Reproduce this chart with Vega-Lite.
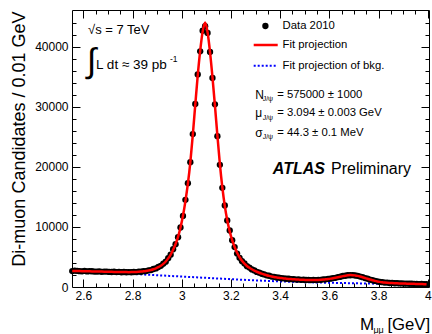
{
  "$schema": "https://vega.github.io/schema/vega-lite/v6.json",
  "width": 357,
  "height": 277,
  "autosize": "none",
  "padding": {"left": 72, "top": 10, "right": 3, "bottom": 47},
  "background": "white",
  "data": {"values": [{}]},
  "config": {
    "font": "Liberation Sans",
    "view": {"stroke": "black", "strokeWidth": 1},
    "text": {"font": "Liberation Sans", "fontSize": 11.3, "align": "left", "baseline": "middle", "color": "black"},
    "axis": {"labelFont": "Liberation Sans", "labelColor": "black", "labelFontSize": 12, "titleFont": "Liberation Sans", "titleColor": "black", "grid": false, "tickColor": "black", "tickWidth": 1, "domain": false, "labelFlush": false, "labelOverlap": false}
  },
  "datasets": {
    "bins": [
      {"m":2.555,"n":2650,"f":2680},{"m":2.565,"n":2720,"f":2670},{"m":2.575,"n":2690,"f":2660},{"m":2.585,"n":2640,"f":2650},{"m":2.595,"n":2610,"f":2640},
      {"m":2.605,"n":2670,"f":2630},{"m":2.615,"n":2590,"f":2620},{"m":2.625,"n":2640,"f":2610},{"m":2.635,"n":2620,"f":2600},{"m":2.645,"n":2570,"f":2590},
      {"m":2.655,"n":2560,"f":2580},{"m":2.665,"n":2600,"f":2570},{"m":2.675,"n":2530,"f":2560},{"m":2.685,"n":2570,"f":2550},{"m":2.695,"n":2560,"f":2540},
      {"m":2.705,"n":2510,"f":2530},{"m":2.715,"n":2500,"f":2521},{"m":2.725,"n":2540,"f":2512},{"m":2.735,"n":2480,"f":2503},{"m":2.745,"n":2510,"f":2495},
      {"m":2.755,"n":2460,"f":2488},{"m":2.765,"n":2500,"f":2482},{"m":2.775,"n":2450,"f":2477},{"m":2.785,"n":2490,"f":2474},{"m":2.795,"n":2460,"f":2478},
      {"m":2.805,"n":2500,"f":2488},{"m":2.815,"n":2480,"f":2505},{"m":2.825,"n":2550,"f":2530},{"m":2.835,"n":2540,"f":2565},{"m":2.845,"n":2640,"f":2610},
      {"m":2.855,"n":2650,"f":2670},{"m":2.865,"n":2770,"f":2745},{"m":2.875,"n":2820,"f":2840},{"m":2.885,"n":2990,"f":2960},{"m":2.895,"n":3090,"f":3110},
      {"m":2.905,"n":3330,"f":3300},{"m":2.915,"n":3520,"f":3540},{"m":2.925,"n":3890,"f":3850},{"m":2.935,"n":4220,"f":4250},{"m":2.945,"n":4800,"f":4760},
      {"m":2.955,"n":5380,"f":5400},{"m":2.965,"n":6280,"f":6200},{"m":2.975,"n":7110,"f":7150},{"m":2.985,"n":8300,"f":8350},{"m":2.995,"n":9900,"f":9900},
      {"m":3.005,"n":11830,"f":11850},{"m":3.015,"n":14500,"f":14300},{"m":3.025,"n":17280,"f":17200},{"m":3.035,"n":20780,"f":20800},{"m":3.045,"n":25450,"f":25300},
      {"m":3.055,"n":30450,"f":30300},{"m":3.065,"n":35380,"f":35200},{"m":3.075,"n":39220,"f":39300},{"m":3.085,"n":42650,"f":42500},{"m":3.095,"n":43400,"f":44000},
      {"m":3.105,"n":42280,"f":42400},{"m":3.115,"n":39120,"f":39100},{"m":3.125,"n":34780,"f":34900},{"m":3.135,"n":30400,"f":30200},{"m":3.145,"n":25100,"f":25200},
      {"m":3.155,"n":20330,"f":20500},{"m":3.165,"n":16500,"f":16600},{"m":3.175,"n":13580,"f":13500},{"m":3.185,"n":11080,"f":11100},{"m":3.195,"n":9420,"f":9250},
      {"m":3.205,"n":7800,"f":7800},{"m":3.215,"n":6650,"f":6650},{"m":3.225,"n":5560,"f":5700},{"m":3.235,"n":4850,"f":4950},{"m":3.245,"n":4300,"f":4350},
      {"m":3.255,"n":3920,"f":3880},{"m":3.265,"n":3470,"f":3500},{"m":3.275,"n":3230,"f":3200},{"m":3.285,"n":2920,"f":2950},{"m":3.295,"n":2760,"f":2730},
      {"m":3.305,"n":2510,"f":2540},{"m":3.315,"n":2390,"f":2370},{"m":3.325,"n":2200,"f":2220},{"m":3.335,"n":2100,"f":2080},{"m":3.345,"n":1940,"f":1960},
      {"m":3.355,"n":1870,"f":1850},{"m":3.365,"n":1740,"f":1755},{"m":3.375,"n":1690,"f":1670},{"m":3.385,"n":1580,"f":1600},{"m":3.395,"n":1550,"f":1535},
      {"m":3.405,"n":1460,"f":1480},{"m":3.415,"n":1450,"f":1430},{"m":3.425,"n":1370,"f":1390},{"m":3.435,"n":1370,"f":1350},{"m":3.445,"n":1300,"f":1315},
      {"m":3.455,"n":1300,"f":1285},{"m":3.465,"n":1240,"f":1255},{"m":3.475,"n":1250,"f":1230},{"m":3.485,"n":1190,"f":1210},{"m":3.495,"n":1210,"f":1190},
      {"m":3.505,"n":1160,"f":1178},{"m":3.515,"n":1190,"f":1168},{"m":3.525,"n":1150,"f":1163},{"m":3.535,"n":1180,"f":1163},{"m":3.545,"n":1150,"f":1170},
      {"m":3.555,"n":1200,"f":1185},{"m":3.565,"n":1190,"f":1208},{"m":3.575,"n":1260,"f":1240},{"m":3.585,"n":1270,"f":1282},{"m":3.595,"n":1350,"f":1333},
      {"m":3.605,"n":1380,"f":1395},{"m":3.615,"n":1480,"f":1465},{"m":3.625,"n":1530,"f":1545},{"m":3.635,"n":1650,"f":1630},{"m":3.645,"n":1700,"f":1720},
      {"m":3.655,"n":1830,"f":1810},{"m":3.665,"n":1870,"f":1885},{"m":3.675,"n":1960,"f":1945},{"m":3.685,"n":1960,"f":1978},{"m":3.695,"n":1990,"f":1975},
      {"m":3.705,"n":1910,"f":1930},{"m":3.715,"n":1860,"f":1850},{"m":3.725,"n":1730,"f":1745},{"m":3.735,"n":1640,"f":1625},{"m":3.745,"n":1480,"f":1495},
      {"m":3.755,"n":1380,"f":1365},{"m":3.765,"n":1225,"f":1240},{"m":3.775,"n":1140,"f":1125},{"m":3.785,"n":1005,"f":1020},{"m":3.795,"n":945,"f":930},
      {"m":3.805,"n":840,"f":855},{"m":3.815,"n":810,"f":795},{"m":3.825,"n":735,"f":750},{"m":3.835,"n":730,"f":715},{"m":3.845,"n":670,"f":685},
      {"m":3.855,"n":675,"f":660},{"m":3.865,"n":625,"f":640},{"m":3.875,"n":635,"f":620},{"m":3.885,"n":590,"f":602},{"m":3.895,"n":600,"f":588},
      {"m":3.905,"n":560,"f":574},{"m":3.915,"n":575,"f":560},{"m":3.925,"n":535,"f":547},{"m":3.935,"n":545,"f":534},{"m":3.945,"n":510,"f":522},
      {"m":3.955,"n":520,"f":510},{"m":3.965,"n":485,"f":498},{"m":3.975,"n":495,"f":487},{"m":3.985,"n":465,"f":476},{"m":3.995,"n":480,"f":466}
    ],
    "bkg": [
      {"m":2.555,"b":2600},{"m":2.6,"b":2530},{"m":2.65,"b":2450},{"m":2.7,"b":2370},{"m":2.75,"b":2280},{"m":2.8,"b":2180},
      {"m":2.85,"b":2070},{"m":2.9,"b":1960},{"m":2.95,"b":1850},{"m":3.0,"b":1740},{"m":3.05,"b":1630},{"m":3.1,"b":1520},
      {"m":3.15,"b":1410},{"m":3.2,"b":1300},{"m":3.25,"b":1200},{"m":3.3,"b":1100},{"m":3.35,"b":1010},{"m":3.4,"b":930},
      {"m":3.45,"b":860},{"m":3.5,"b":800},{"m":3.55,"b":750},{"m":3.6,"b":705},{"m":3.65,"b":660},{"m":3.7,"b":620},
      {"m":3.75,"b":580},{"m":3.8,"b":545},{"m":3.85,"b":510},{"m":3.9,"b":480},{"m":3.95,"b":450},{"m":3.995,"b":425}
    ]
  },
  "resolve": {"axis": {"x": "independent", "y": "independent"}},
  "layer": [
    {
      "data": {"name": "bkg"},
      "mark": {"type": "line", "color": "#0000ff", "strokeWidth": 2, "strokeDash": [2, 2], "interpolate": "monotone"},
      "encoding": {
        "x": {"field": "m", "type": "quantitative", "scale": {"domain": [2.554, 4.005], "nice": false, "zero": false},
              "axis": {"orient": "bottom", "values": [2.6, 2.8, 3, 3.2, 3.4, 3.6, 3.8, 4], "format": "~g", "ticks": false, "labelPadding": 3, "title": null}},
        "y": {"field": "b", "type": "quantitative", "scale": {"domain": [0, 46100], "nice": false},
              "axis": {"orient": "left", "values": [0, 10000, 20000, 30000, 40000], "format": "d", "ticks": false, "labelPadding": 4,
                       "title": "Di-muon Candidates / 0.01 GeV", "titleFontSize": 18, "titleFontWeight": "normal", "titleAngle": -90,
                       "titleX": -48, "titleY": 1, "titleAlign": "right", "titleBaseline": "alphabetic"}}
      }
    },
    {
      "data": {"name": "bins"},
      "mark": {"type": "point", "shape": "circle", "filled": true, "color": "black", "opacity": 1, "size": 40, "strokeWidth": 0},
      "encoding": {
        "x": {"field": "m", "type": "quantitative", "scale": {"domain": [2.554, 4.005], "nice": false, "zero": false},
              "axis": {"orient": "bottom", "values": [2.65,2.7,2.75,2.85,2.9,2.95,3.05,3.1,3.15,3.25,3.3,3.35,3.45,3.5,3.55,3.65,3.7,3.75,3.85,3.9,3.95],
                       "labels": false, "title": null, "ticks": true, "tickSize": -4}},
        "y": {"field": "n", "type": "quantitative", "scale": {"domain": [0, 46100], "nice": false},
              "axis": {"orient": "left", "values": [2000,4000,6000,8000,12000,14000,16000,18000,22000,24000,26000,28000,32000,34000,36000,38000,42000,44000],
                       "labels": false, "title": null, "ticks": true, "tickSize": -4}}
      }
    },
    {
      "data": {"name": "bins"},
      "mark": {"type": "line", "color": "#ff0000", "strokeWidth": 2.5, "interpolate": "monotone"},
      "encoding": {
        "x": {"field": "m", "type": "quantitative", "scale": {"domain": [2.554, 4.005], "nice": false, "zero": false},
              "axis": {"orient": "top", "values": [2.65,2.7,2.75,2.85,2.9,2.95,3.05,3.1,3.15,3.25,3.3,3.35,3.45,3.5,3.55,3.65,3.7,3.75,3.85,3.9,3.95],
                       "labels": false, "title": null, "ticks": true, "tickSize": -4}},
        "y": {"field": "f", "type": "quantitative", "scale": {"domain": [0, 46100], "nice": false},
              "axis": {"orient": "right", "values": [2000,4000,6000,8000,12000,14000,16000,18000,22000,24000,26000,28000,32000,34000,36000,38000,42000,44000],
                       "labels": false, "title": null, "ticks": true, "tickSize": -4}}
      }
    },
    {"mark": {"type": "text", "text": "√s = 7 TeV", "fontSize": 13},
     "encoding": {"x": {"datum": 2.619, "type": "quantitative", "scale": {"domain": [2.554, 4.005], "nice": false, "zero": false},
                        "axis": {"orient": "bottom", "values": [2.6, 2.8, 3, 3.2, 3.4, 3.6, 3.8, 4], "labels": false, "title": null, "ticks": true, "tickSize": -8}},
                  "y": {"datum": 42770, "type": "quantitative", "scale": {"domain": [0, 46100], "nice": false},
                        "axis": {"orient": "left", "values": [10000, 20000, 30000, 40000], "labels": false, "title": null, "ticks": true, "tickSize": -8}}}},
    {"mark": {"type": "text", "text": "∫", "fontSize": 34, "align": "center"},
     "encoding": {"x": {"datum": 2.634, "type": "quantitative", "scale": {"domain": [2.554, 4.005], "nice": false, "zero": false},
                        "axis": {"orient": "top", "values": [2.6, 2.8, 3, 3.2, 3.4, 3.6, 3.8, 4], "labels": false, "title": null, "ticks": true, "tickSize": -8}},
                  "y": {"datum": 37450, "type": "quantitative", "scale": {"domain": [0, 46100], "nice": false},
                        "axis": {"orient": "right", "values": [10000, 20000, 30000, 40000], "labels": false, "title": null, "ticks": true, "tickSize": -8}}}},
    {"mark": {"type": "text", "text": "L dt ≈ 39 pb", "fontSize": 13.5},
     "encoding": {"x": {"datum": 2.652, "type": "quantitative", "axis": null, "scale": {"domain": [2.554, 4.005], "nice": false, "zero": false}},
                  "y": {"datum": 36950, "type": "quantitative", "axis": null, "scale": {"domain": [0, 46100], "nice": false}}}},
    {"mark": {"type": "text", "text": "-1", "fontSize": 8.5},
     "encoding": {"x": {"datum": 2.952, "type": "quantitative", "axis": null, "scale": {"domain": [2.554, 4.005], "nice": false, "zero": false}},
                  "y": {"datum": 37945, "type": "quantitative", "axis": null, "scale": {"domain": [0, 46100], "nice": false}}}},
    {"mark": {"type": "point", "shape": "circle", "filled": true, "color": "black", "opacity": 1, "size": 40, "strokeWidth": 0},
     "encoding": {"x": {"datum": 3.340, "type": "quantitative", "axis": null, "scale": {"domain": [2.554, 4.005], "nice": false, "zero": false}},
                  "y": {"datum": 43440, "type": "quantitative", "axis": null, "scale": {"domain": [0, 46100], "nice": false}}}},
    {"mark": {"type": "text", "text": "Data 2010"},
     "encoding": {"x": {"datum": 3.410, "type": "quantitative", "axis": null, "scale": {"domain": [2.554, 4.005], "nice": false, "zero": false}},
                  "y": {"datum": 43440, "type": "quantitative", "axis": null, "scale": {"domain": [0, 46100], "nice": false}}}},
    {"mark": {"type": "rule", "color": "#ff0000", "strokeWidth": 2.5},
     "encoding": {"x": {"datum": 3.2925, "type": "quantitative", "axis": null, "scale": {"domain": [2.554, 4.005], "nice": false, "zero": false}},
                  "x2": {"datum": 3.3901},
                  "y": {"datum": 40275, "type": "quantitative", "axis": null, "scale": {"domain": [0, 46100], "nice": false}}}},
    {"mark": {"type": "text", "text": "Fit projection"},
     "encoding": {"x": {"datum": 3.410, "type": "quantitative", "axis": null, "scale": {"domain": [2.554, 4.005], "nice": false, "zero": false}},
                  "y": {"datum": 40275, "type": "quantitative", "axis": null, "scale": {"domain": [0, 46100], "nice": false}}}},
    {"mark": {"type": "rule", "color": "#0000ff", "strokeWidth": 2, "strokeDash": [2, 2]},
     "encoding": {"x": {"datum": 3.2925, "type": "quantitative", "axis": null, "scale": {"domain": [2.554, 4.005], "nice": false, "zero": false}},
                  "x2": {"datum": 3.3901},
                  "y": {"datum": 36830, "type": "quantitative", "axis": null, "scale": {"domain": [0, 46100], "nice": false}}}},
    {"mark": {"type": "text", "text": "Fit projection of bkg."},
     "encoding": {"x": {"datum": 3.410, "type": "quantitative", "axis": null, "scale": {"domain": [2.554, 4.005], "nice": false, "zero": false}},
                  "y": {"datum": 36830, "type": "quantitative", "axis": null, "scale": {"domain": [0, 46100], "nice": false}}}},
    {"mark": {"type": "text", "text": "N", "fontSize": 12},
     "encoding": {"x": {"datum": 3.299, "type": "quantitative", "axis": null, "scale": {"domain": [2.554, 4.005], "nice": false, "zero": false}},
                  "y": {"datum": 31950, "type": "quantitative", "axis": null, "scale": {"domain": [0, 46100], "nice": false}}}},
    {"mark": {"type": "text", "text": "J/ψ", "fontSize": 7},
     "encoding": {"x": {"datum": 3.329, "type": "quantitative", "axis": null, "scale": {"domain": [2.554, 4.005], "nice": false, "zero": false}},
                  "y": {"datum": 31300, "type": "quantitative", "axis": null, "scale": {"domain": [0, 46100], "nice": false}}}},
    {"mark": {"type": "text", "text": "= 575000 ± 1000"},
     "encoding": {"x": {"datum": 3.388, "type": "quantitative", "axis": null, "scale": {"domain": [2.554, 4.005], "nice": false, "zero": false}},
                  "y": {"datum": 31950, "type": "quantitative", "axis": null, "scale": {"domain": [0, 46100], "nice": false}}}},
    {"mark": {"type": "text", "text": "μ", "fontSize": 12},
     "encoding": {"x": {"datum": 3.299, "type": "quantitative", "axis": null, "scale": {"domain": [2.554, 4.005], "nice": false, "zero": false}},
                  "y": {"datum": 28910, "type": "quantitative", "axis": null, "scale": {"domain": [0, 46100], "nice": false}}}},
    {"mark": {"type": "text", "text": "J/ψ", "fontSize": 7},
     "encoding": {"x": {"datum": 3.329, "type": "quantitative", "axis": null, "scale": {"domain": [2.554, 4.005], "nice": false, "zero": false}},
                  "y": {"datum": 28075, "type": "quantitative", "axis": null, "scale": {"domain": [0, 46100], "nice": false}}}},
    {"mark": {"type": "text", "text": "= 3.094 ± 0.003 GeV"},
     "encoding": {"x": {"datum": 3.388, "type": "quantitative", "axis": null, "scale": {"domain": [2.554, 4.005], "nice": false, "zero": false}},
                  "y": {"datum": 28910, "type": "quantitative", "axis": null, "scale": {"domain": [0, 46100], "nice": false}}}},
    {"mark": {"type": "text", "text": "σ", "fontSize": 12},
     "encoding": {"x": {"datum": 3.299, "type": "quantitative", "axis": null, "scale": {"domain": [2.554, 4.005], "nice": false, "zero": false}},
                  "y": {"datum": 25580, "type": "quantitative", "axis": null, "scale": {"domain": [0, 46100], "nice": false}}}},
    {"mark": {"type": "text", "text": "J/ψ", "fontSize": 7},
     "encoding": {"x": {"datum": 3.329, "type": "quantitative", "axis": null, "scale": {"domain": [2.554, 4.005], "nice": false, "zero": false}},
                  "y": {"datum": 25000, "type": "quantitative", "axis": null, "scale": {"domain": [0, 46100], "nice": false}}}},
    {"mark": {"type": "text", "text": "= 44.3 ± 0.1 MeV"},
     "encoding": {"x": {"datum": 3.388, "type": "quantitative", "axis": null, "scale": {"domain": [2.554, 4.005], "nice": false, "zero": false}},
                  "y": {"datum": 25580, "type": "quantitative", "axis": null, "scale": {"domain": [0, 46100], "nice": false}}}},
    {"mark": {"type": "text", "text": "ATLAS", "fontSize": 16, "fontWeight": "bold", "fontStyle": "italic"},
     "encoding": {"x": {"datum": 3.370, "type": "quantitative", "axis": null, "scale": {"domain": [2.554, 4.005], "nice": false, "zero": false}},
                  "y": {"datum": 19640, "type": "quantitative", "axis": null, "scale": {"domain": [0, 46100], "nice": false}}}},
    {"mark": {"type": "text", "text": "Preliminary", "fontSize": 16},
     "encoding": {"x": {"datum": 3.607, "type": "quantitative", "axis": null, "scale": {"domain": [2.554, 4.005], "nice": false, "zero": false}},
                  "y": {"datum": 19640, "type": "quantitative", "axis": null, "scale": {"domain": [0, 46100], "nice": false}}}},
    {"mark": {"type": "text", "text": "M", "fontSize": 17},
     "encoding": {"x": {"datum": 3.7247, "type": "quantitative", "axis": null, "scale": {"domain": [2.554, 4.005], "nice": false, "zero": false}},
                  "y": {"datum": -6324, "type": "quantitative", "axis": null, "scale": {"domain": [0, 46100], "nice": false}}}},
    {"mark": {"type": "text", "text": "μμ", "fontSize": 9},
     "encoding": {"x": {"datum": 3.779, "type": "quantitative", "axis": null, "scale": {"domain": [2.554, 4.005], "nice": false, "zero": false}},
                  "y": {"datum": -7156, "type": "quantitative", "axis": null, "scale": {"domain": [0, 46100], "nice": false}}}},
    {"mark": {"type": "text", "text": "[GeV]", "fontSize": 16.7},
     "encoding": {"x": {"datum": 3.836, "type": "quantitative", "axis": null, "scale": {"domain": [2.554, 4.005], "nice": false, "zero": false}},
                  "y": {"datum": -6324, "type": "quantitative", "axis": null, "scale": {"domain": [0, 46100], "nice": false}}}}
  ]
}
